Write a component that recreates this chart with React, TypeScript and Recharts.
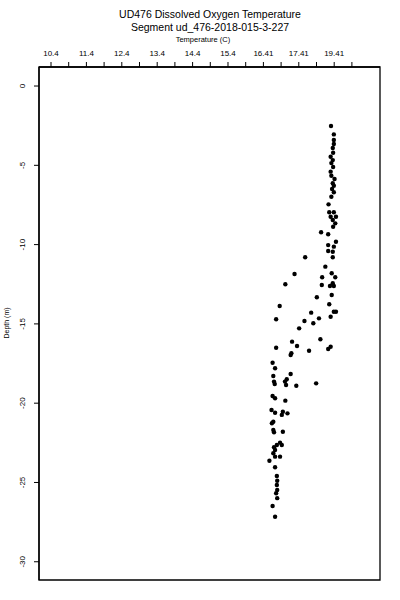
import React from "react";
import { ScatterChart, Scatter, XAxis, YAxis, ReferenceArea } from "recharts";

// [temperature (C), depth (m)]
const upperPoints: [number, number][] = [
  [18.31, -2.52], [18.39, -3.05], [18.39, -3.4], [18.39, -3.66], [18.36, -3.91],
  [18.37, -4.21], [18.3, -4.46], [18.36, -4.67], [18.32, -4.86], [18.37, -5.11],
  [18.3, -5.4], [18.32, -5.66], [18.41, -5.86], [18.36, -6.13], [18.39, -6.29],
  [18.34, -6.49], [18.39, -6.7], [18.32, -6.98], [18.24, -7.46], [18.26, -7.96],
  [18.39, -7.96], [18.3, -8.24], [18.45, -8.24], [18.36, -8.45], [18.43, -8.66],
  [18.37, -8.87], [18.03, -9.22], [18.23, -9.35], [18.45, -9.82], [18.23, -10.03],
  [18.39, -10.13], [18.23, -10.4], [18.36, -10.45],
];

const middlePoints: [number, number][] = [
  [18.36, -10.8], [17.58, -10.8], [18.15, -11.39], [18.33, -11.81], [17.28, -11.85],
  [18.06, -12.06], [18.43, -12.06], [17.02, -12.5], [18.05, -12.55], [18.28, -12.61],
  [18.39, -12.61], [18.36, -12.44], [17.91, -13.32], [18.33, -13.18], [18.26, -13.76],
  [16.86, -13.87], [18.39, -14.23], [18.45, -14.23], [17.75, -14.29], [18.3, -14.55],
  [17.97, -14.65], [16.76, -14.71], [17.56, -14.82], [17.81, -14.96], [17.41, -15.28],
  [18.01, -15.97], [17.21, -16.12], [17.35, -16.39], [16.76, -16.5], [18.3, -16.44],
  [18.23, -16.58], [17.69, -16.69], [17.19, -16.85], [17.17, -16.96], [16.66, -17.45],
  [16.73, -17.8], [17.17, -18.16], [16.68, -18.29], [17.06, -18.49], [17.01, -18.64],
  [16.7, -18.64], [16.72, -18.79], [17.04, -18.85], [17.33, -18.9], [17.89, -18.75],
];

const lowerPoints: [number, number][] = [
  [16.66, -19.55], [16.73, -19.69], [17.02, -19.84], [16.63, -20.43], [16.73, -20.6],
  [16.95, -20.54], [16.92, -20.74], [17.08, -20.64], [16.68, -21.17], [16.64, -21.27],
  [16.68, -21.69], [16.7, -21.83], [16.95, -21.8], [16.87, -22.49], [16.78, -22.64],
  [16.7, -22.78], [16.73, -22.95], [16.92, -22.64], [16.68, -23.16], [16.73, -23.37],
  [16.87, -23.37], [16.57, -23.63], [16.73, -24.04], [16.78, -24.59], [16.79, -24.89],
  [16.78, -25.16], [16.79, -25.47], [16.76, -25.68], [16.79, -25.99], [16.66, -26.48],
  [16.73, -27.16],
];

const xTickValues = [
  10.4, 10.9, 11.4, 11.9, 12.4, 12.9, 13.4, 13.9, 14.4, 14.9, 15.4, 15.9, 16.4,
  16.9, 17.4, 17.9, 18.4, 18.9,
];
const xTickLabels = [
  "10.4", "", "11.4", "", "12.4", "", "13.4", "", "14.4", "", "15.4", "",
  "16.41", "", "17.41", "", "19.41", "",
];
const yTickValues = [0, -5, -10, -15, -20, -25, -30];
const yTickLabels = ["0", "-5", "-10", "-15", "-20", "-25", "-30"];

const titleLine1 = "UD476 Dissolved Oxygen Temperature";
const titleLine2 = "Segment ud_476-2018-015-3-227";
const xLabel = "Temperature (C)";
const yLabel = "Depth (m)";

const data = [...upperPoints, ...middlePoints, ...lowerPoints].map(([t, d]) => ({ t, d }));

const FONT = "'Liberation Sans', Arial, Helvetica, sans-serif";
const X_DOMAIN: [number, number] = [10.061, 19.694];
const Y_DOMAIN: [number, number] = [-31.15, 1.2];

const XTick = (props: any) => {
  const { x, payload, index } = props;
  const i = xTickValues.indexOf(payload.value);
  const label = i >= 0 ? xTickLabels[i] : xTickLabels[index] ?? "";
  return (
    <text x={x} y={56} textAnchor="middle" fontSize={8} fontFamily={FONT} fill="#000">
      {label}
    </text>
  );
};

const YTick = (props: any) => {
  const { y, payload } = props;
  const i = yTickValues.indexOf(payload.value);
  const label = i >= 0 ? yTickLabels[i] : String(payload.value);
  const x = 25;
  return (
    <text
      x={x}
      y={y}
      transform={`rotate(-90, ${x}, ${y})`}
      textAnchor="middle"
      fontSize={8}
      fontFamily={FONT}
      fill="#000"
    >
      {label}
    </text>
  );
};

const Dot = (props: any) => {
  const { cx, cy } = props;
  if (cx == null || cy == null) return null;
  return <circle cx={cx} cy={cy} r={2.2} fill="#000" />;
};

export default function App() {
  return (
    <div style={{ position: "absolute", left: 0, top: 0, width: 400, height: 600, background: "#fff" }}>
      <ScatterChart
        width={400}
        height={600}
        margin={{ top: 47, right: 20, bottom: 20, left: 0 }}
      >
        <XAxis
          xAxisId={0}
          type="number"
          dataKey="t"
          orientation="top"
          domain={X_DOMAIN}
          allowDataOverflow
          ticks={xTickValues}
          interval={0}
          height={20}
          tickSize={5}
          tickLine={{ stroke: "#000", strokeWidth: 1 }}
          axisLine={{ stroke: "#000", strokeWidth: 1.3 }}
          tick={<XTick />}
        />
        <YAxis
          yAxisId={0}
          type="number"
          dataKey="d"
          domain={Y_DOMAIN}
          allowDataOverflow
          ticks={yTickValues}
          interval={0}
          width={39}
          tickSize={5}
          tickLine={{ stroke: "#000", strokeWidth: 1 }}
          axisLine={{ stroke: "#000", strokeWidth: 1.3 }}
          tick={<YTick />}
        />
        <ReferenceArea
          xAxisId={0}
          yAxisId={0}
          x1={X_DOMAIN[0]}
          x2={X_DOMAIN[1]}
          y1={Y_DOMAIN[0]}
          y2={Y_DOMAIN[1]}
          fill="none"
          fillOpacity={0}
          stroke="#000"
          strokeWidth={1.3}
          ifOverflow="visible"
        />
        <Scatter
          data={data}
          xAxisId={0}
          yAxisId={0}
          fill="#000"
          shape={<Dot />}
          isAnimationActive={false}
        />
      </ScatterChart>
      <svg
        width={400}
        height={600}
        style={{ position: "absolute", left: 0, top: 0, pointerEvents: "none" }}
      >
        <text x={210} y={18} textAnchor="middle" fontSize={10.5} fontFamily={FONT} fill="#000">
          {titleLine1}
        </text>
        <text x={210} y={31} textAnchor="middle" fontSize={10.5} fontFamily={FONT} fill="#000">
          {titleLine2}
        </text>
        <text x={203} y={42} textAnchor="middle" fontSize={7.5} fontFamily={FONT} fill="#000">
          {xLabel}
        </text>
        <text
          x={9}
          y={323}
          transform="rotate(-90, 9, 323)"
          textAnchor="middle"
          fontSize={7}
          fontFamily={FONT}
          fill="#000"
        >
          {yLabel}
        </text>
      </svg>
    </div>
  );
}
